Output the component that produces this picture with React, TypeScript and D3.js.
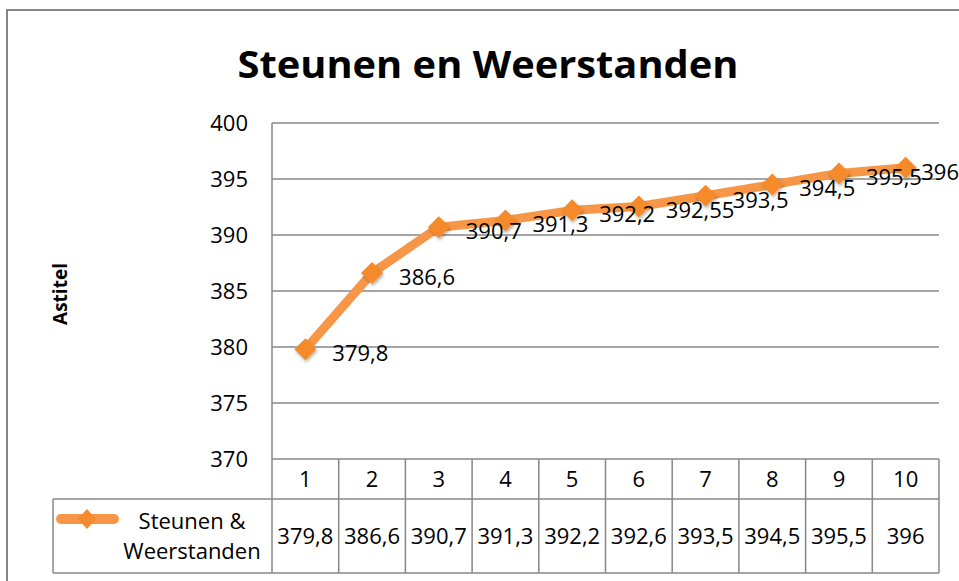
import { useEffect, useRef } from "react"
import * as d3 from "d3"

const categories = ["1", "2", "3", "4", "5", "6", "7", "8", "9", "10"]
const values = [379.8, 386.6, 390.7, 391.3, 392.2, 392.55, 393.5, 394.5, 395.5, 396]
const tableValues = ["379,8", "386,6", "390,7", "391,3", "392,2", "392,6", "393,5", "394,5", "395,5", "396"]
const yTicks = [370, 375, 380, 385, 390, 395, 400]
const seriesName = ["Steunen &", "Weerstanden"]

const W = 959
const H = 581
const FONT = "'Open Sans', 'Noto Sans', sans-serif"
const GRID = "#878787"
const ORANGE = "#F79646"
const MARKER = "#F48A2C"

export default function App() {
  const svgRef = useRef<SVGSVGElement>(null)

  useEffect(() => {
    const svg = d3.select(svgRef.current)
    svg.selectAll("*").remove()

    const left = 272
    const right = 939
    const top = 123
    const bottom = 459
    const headerBottom = 499
    const tableBottom = 573
    const legendLeft = 53

    const x = d3.scaleBand<string>().domain(categories).range([left, right])
    const y = d3.scaleLinear().domain([370, 400]).range([bottom, top])
    const fmt = (v: number) => String(v).replace(".", ",")

    // drop shadow for the markers
    const defs = svg.append("defs")
    const f = defs.append("filter").attr("id", "sh").attr("x", "-50%").attr("y", "-50%").attr("width", "200%").attr("height", "200%")
    f.append("feDropShadow").attr("dx", 1).attr("dy", 2).attr("stdDeviation", 1.5).attr("flood-color", "#000").attr("flood-opacity", 0.3)

    svg.append("rect").attr("width", W).attr("height", H).attr("fill", "white")

    // chart border
    svg.append("path").attr("d", `M7,${H} V10 H${W}`).attr("fill", "none").attr("stroke", GRID).attr("stroke-width", 2)

    // title
    svg.append("text")
      .attr("x", 488).attr("y", 78)
      .attr("text-anchor", "middle")
      .attr("font-family", FONT).attr("font-size", 38).attr("font-weight", "bold")
      .attr("textLength", 501).attr("lengthAdjust", "spacingAndGlyphs")
      .text("Steunen en Weerstanden")

    // y axis title
    svg.append("text")
      .attr("transform", "translate(67,294) rotate(-90)")
      .attr("text-anchor", "middle")
      .attr("font-family", FONT).attr("font-size", 19).attr("font-weight", "bold")
      .text("Astitel")

    // gridlines
    svg.append("g").selectAll("line").data(yTicks).join("line")
      .attr("x1", left).attr("x2", right)
      .attr("y1", (d) => y(d)).attr("y2", (d) => y(d))
      .attr("stroke", GRID).attr("stroke-width", 1.5)

    svg.append("line").attr("x1", left).attr("x2", left).attr("y1", top).attr("y2", bottom)
      .attr("stroke", GRID).attr("stroke-width", 1.5)

    // tick labels
    svg.append("g").selectAll("text").data(yTicks).join("text")
      .attr("x", 248).attr("y", (d) => y(d)).attr("dy", "0.35em")
      .attr("text-anchor", "end")
      .attr("font-family", FONT).attr("font-size", 22)
      .text((d) => d)

    // data table
    const tg = svg.append("g").attr("stroke", GRID).attr("stroke-width", 1.5).attr("fill", "none")
    tg.append("line").attr("x1", legendLeft).attr("x2", right).attr("y1", headerBottom).attr("y2", headerBottom)
    tg.append("line").attr("x1", legendLeft).attr("x2", right).attr("y1", tableBottom).attr("y2", tableBottom)
    tg.append("line").attr("x1", legendLeft).attr("x2", legendLeft).attr("y1", headerBottom).attr("y2", tableBottom)
    const cols = categories.map((c) => x(c)!).concat([right])
    tg.selectAll("line.col").data(cols).join("line").attr("class", "col")
      .attr("x1", (d) => d).attr("x2", (d) => d).attr("y1", bottom).attr("y2", tableBottom)

    svg.append("g").selectAll("text").data(categories).join("text")
      .attr("x", (d) => x(d)! + x.bandwidth() / 2).attr("y", (bottom + headerBottom) / 2).attr("dy", "0.35em")
      .attr("text-anchor", "middle").attr("font-family", FONT).attr("font-size", 22)
      .text((d) => d)

    svg.append("g").selectAll("text").data(tableValues).join("text")
      .attr("x", (_, i) => x(categories[i])! + x.bandwidth() / 2).attr("y", (headerBottom + tableBottom) / 2).attr("dy", "0.35em")
      .attr("text-anchor", "middle").attr("font-family", FONT).attr("font-size", 22)
      .text((d) => d)

    // legend
    svg.append("line").attr("x1", 61).attr("x2", 114).attr("y1", 519).attr("y2", 519)
      .attr("stroke", ORANGE).attr("stroke-width", 10).attr("stroke-linecap", "round")
    svg.append("path").attr("d", "M87,509 L96,519 L87,529 L78,519 Z").attr("fill", MARKER)
    svg.append("g").selectAll("text").data(seriesName).join("text")
      .attr("x", 192).attr("y", (_, i) => 521 + i * 30).attr("dy", "0.35em")
      .attr("text-anchor", "middle").attr("font-family", FONT).attr("font-size", 22)
      .text((d) => d)

    // series line
    const cx = (i: number) => x(categories[i])! + x.bandwidth() / 2
    const line = d3.line<number>().x((_, i) => cx(i)).y((d) => y(d))
    svg.append("path").datum(values).attr("d", line)
      .attr("fill", "none").attr("stroke", ORANGE).attr("stroke-width", 9)
      .attr("stroke-linejoin", "round").attr("stroke-linecap", "round")

    svg.append("g").selectAll("path").data(values).join("path")
      .attr("transform", (d, i) => `translate(${cx(i)},${y(d)})`)
      .attr("d", "M0,-11 L11,0 L0,11 L-11,0 Z")
      .attr("fill", MARKER).attr("filter", "url(#sh)")

    // data labels, kept inside the chart on the right
    svg.append("g").selectAll("text").data(values).join("text")
      .attr("x", (_, i) => cx(i) + 27).attr("y", (d) => y(d) + 4).attr("dy", "0.35em")
      .attr("font-family", FONT).attr("font-size", 22)
      .text((d) => fmt(d))
      .each(function () {
        const t = this as SVGTextElement
        const b = t.getBBox()
        if (b.x + b.width > W) t.setAttribute("x", String(W - b.width))
      })
  }, [])

  return <svg ref={svgRef} width={W} height={H} style={{ position: "absolute", left: 0, top: 0 }} />
}
